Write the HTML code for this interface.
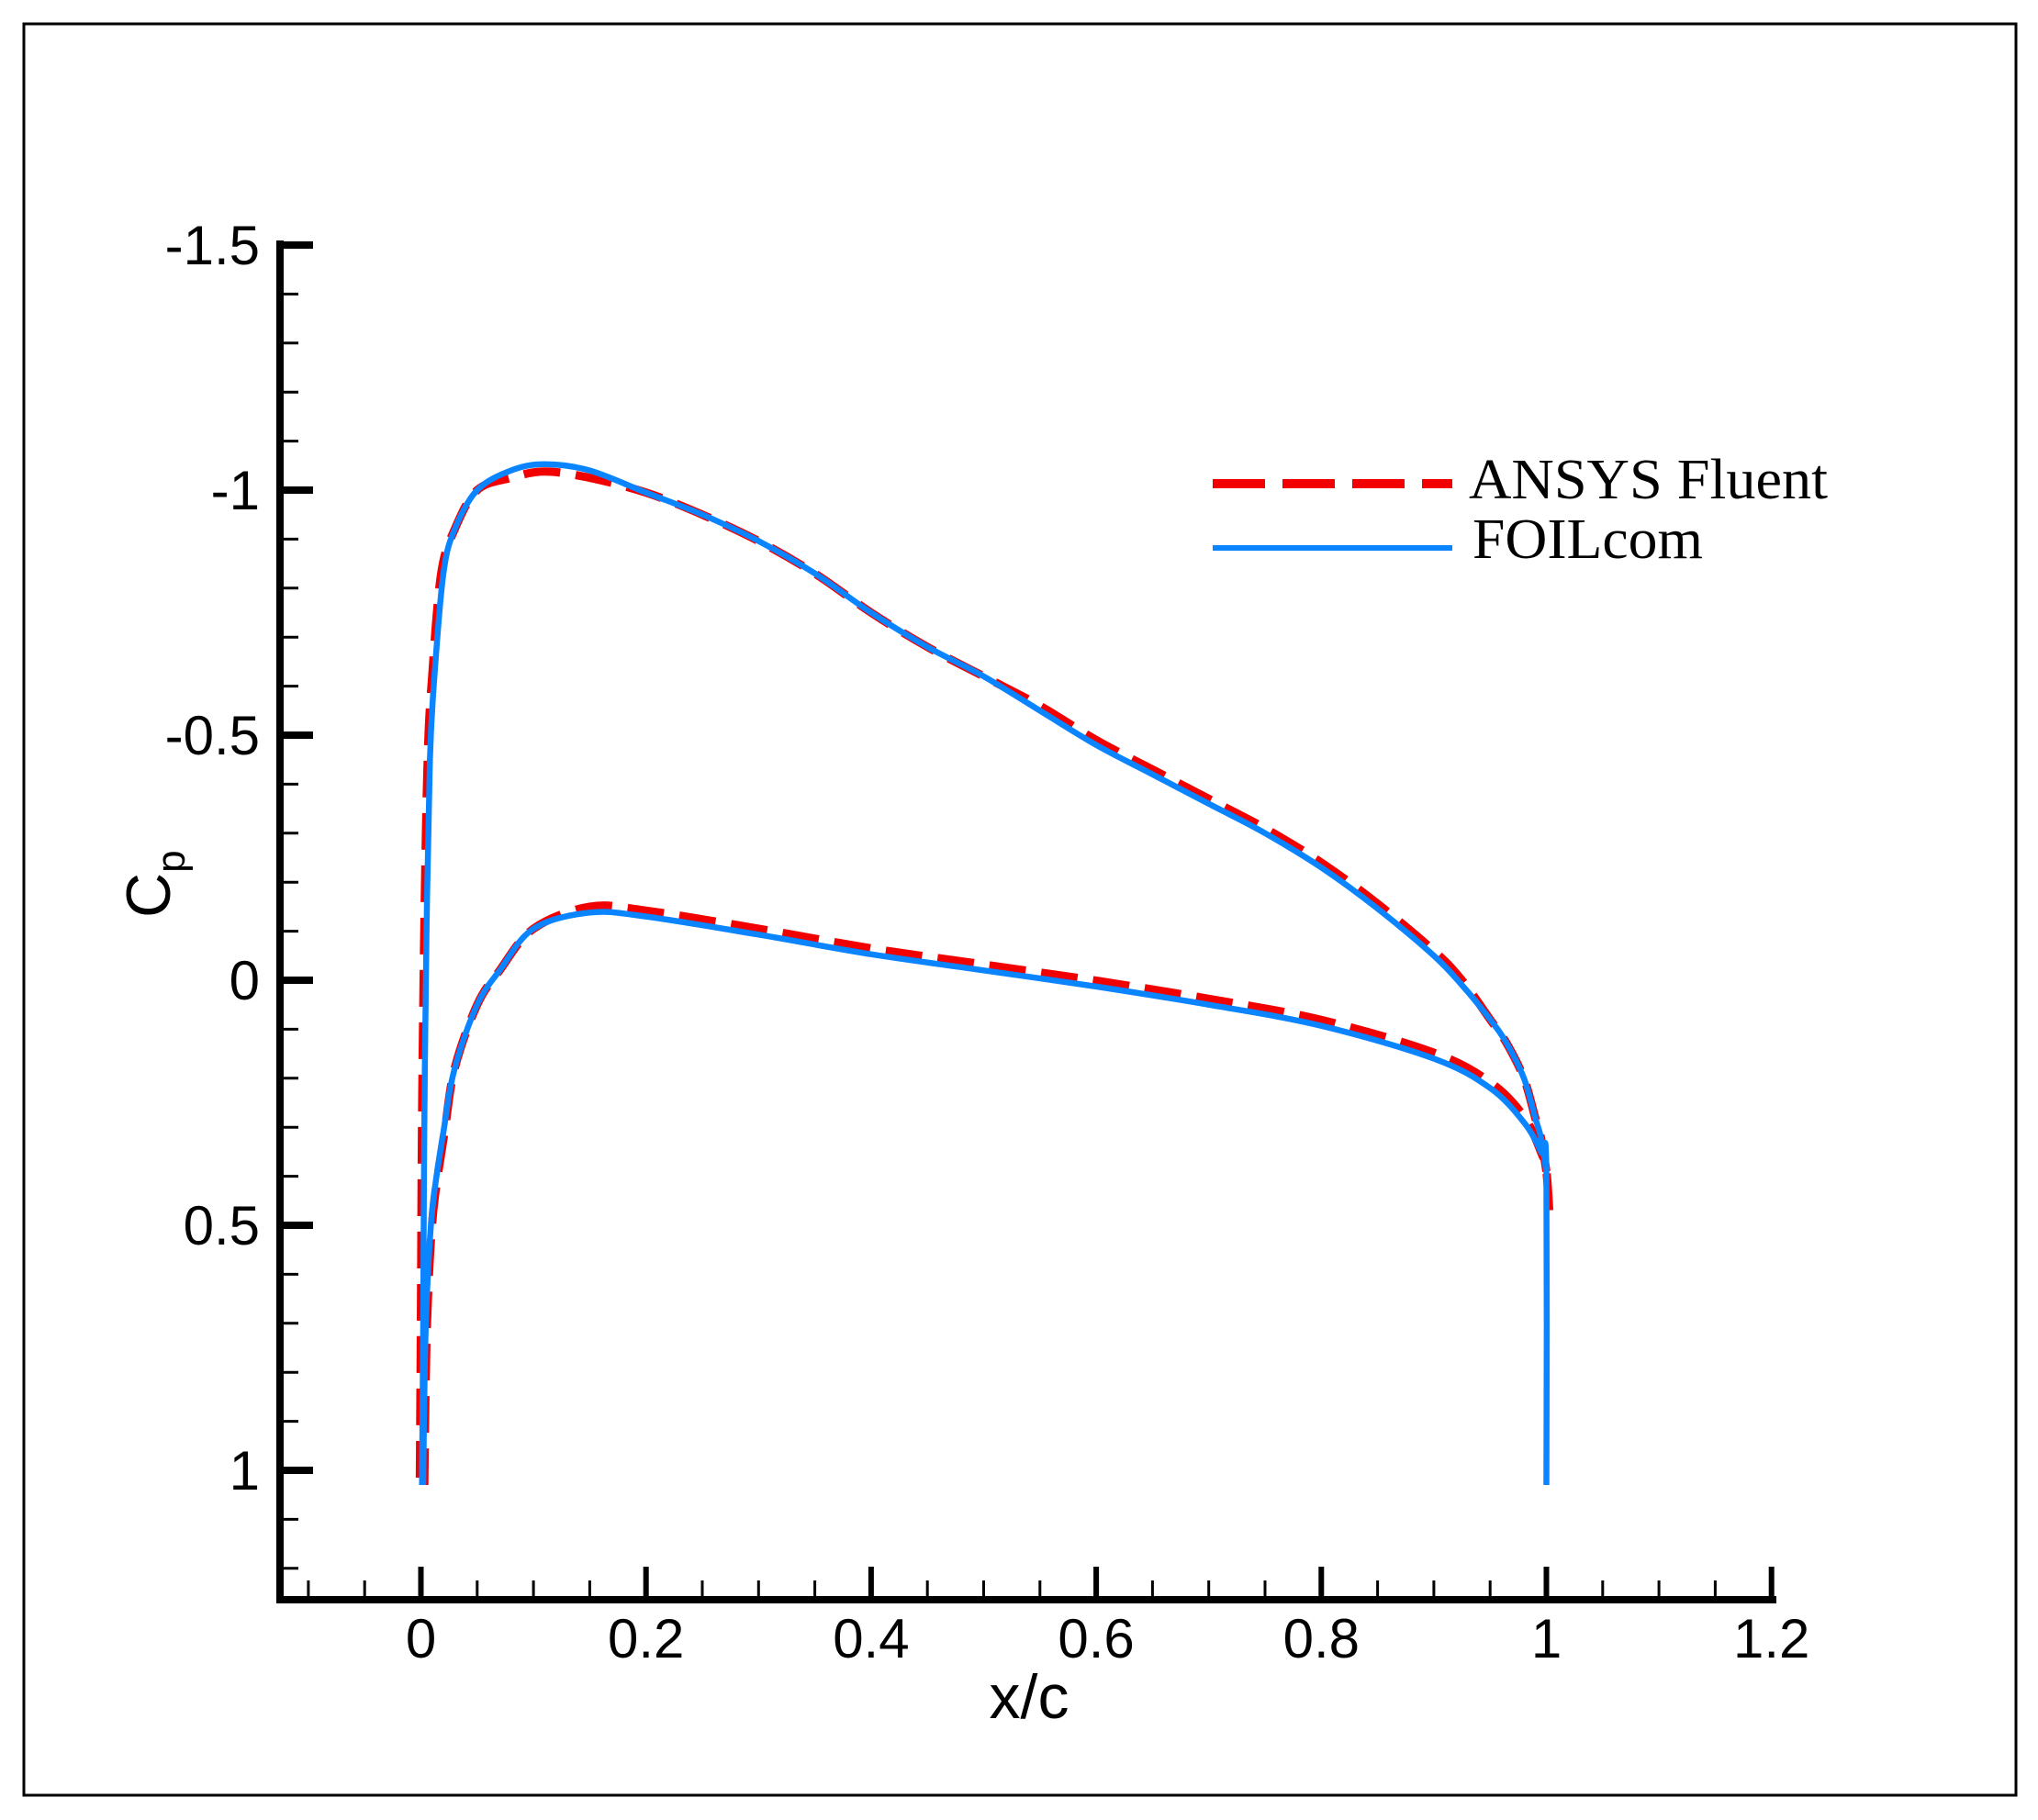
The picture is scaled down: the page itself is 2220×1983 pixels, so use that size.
<!DOCTYPE html>
<html><head><meta charset="utf-8"><style>
html,body{margin:0;padding:0;background:#fff;}
svg{display:block;}
</style></head><body>
<svg id="s" width="2220" height="1983" viewBox="0 0 2220 1983" xmlns="http://www.w3.org/2000/svg">
<rect x="0" y="0" width="2220" height="1983" fill="#fff"/>
<rect x="26" y="26" width="2170" height="1930" fill="none" stroke="#000" stroke-width="3"/>
<g id="axes" stroke="#000"></g>
<g font-family="Liberation Sans, Arial, sans-serif" font-size="60" fill="#000" id="labels"></g>
<path id="red" fill="none" stroke="#f20000" stroke-width="9" stroke-dasharray="40,17"/>
<path id="blue" fill="none" stroke="#0a84ff" stroke-width="6.5"/>
<line x1="1321" y1="527" x2="1582" y2="527" stroke="#f20000" stroke-width="10" stroke-dasharray="57,19"/>
<line x1="1321" y1="597" x2="1582" y2="597" stroke="#0a84ff" stroke-width="6"/>
<text x="1600" y="543" font-family="Liberation Serif, serif" font-size="62" textLength="391" lengthAdjust="spacingAndGlyphs">ANSYS Fluent</text>
<text x="1604" y="608" font-family="Liberation Serif, serif" font-size="62" textLength="251" lengthAdjust="spacingAndGlyphs">FOILcom</text>
<text x="1121" y="1872" font-family="Liberation Sans, sans-serif" font-size="68" text-anchor="middle">x/c</text>
<g transform="translate(185,1000) rotate(-90)"><text x="0" y="0" font-family="Liberation Sans, sans-serif" font-size="68">C<tspan font-size="44" dy="16">p</tspan></text></g>
</svg>
<script>
var X0=458.5,SX=1226,Y0=1068,SY=534;
function px(x){return X0+SX*x}function py(v){return Y0+SY*v}
var ax=document.getElementById('axes'),lb=document.getElementById('labels');
var h='';
h+='<line x1="305" y1="262" x2="305" y2="1747" stroke-width="8"/>';
h+='<line x1="301" y1="1743" x2="1935" y2="1743" stroke-width="8"/>';
for(var i=-15;i<=12;i++){var v=i/10,y=py(v);var maj=(i%5==0);
 h+='<line x1="305" y1="'+y+'" x2="'+(maj?341:325)+'" y2="'+y+'" stroke-width="'+(maj?8:3)+'"/>';}
for(var i=-2;i<=24;i++){var x=px(i*0.05);if(x<306)continue;var maj=(i%4==0);
 h+='<line x1="'+x+'" y1="1743" x2="'+x+'" y2="'+(maj?1707:1722)+'" stroke-width="'+(maj?6:3)+'"/>';}
ax.innerHTML=h;
var t='';
[[-1.5,'-1.5'],[-1,'-1'],[-0.5,'-0.5'],[0,'0'],[0.5,'0.5'],[1,'1']].forEach(function(a){
 t+='<text x="283" y="'+(py(a[0])+21)+'" text-anchor="end">'+a[1]+'</text>';});
[[0,'0'],[0.2,'0.2'],[0.4,'0.4'],[0.6,'0.6'],[0.8,'0.8'],[1,'1'],[1.2,'1.2']].forEach(function(a){
 t+='<text x="'+px(a[0])+'" y="1806" text-anchor="middle">'+a[1]+'</text>';});
lb.innerHTML=t;
var upper=[[1,0.39],[0.995,0.32],[0.99,0.28],[0.98,0.2],[0.965,0.13],[0.95,0.08],[0.925,0.01],[0.9,-0.05],[0.85,-0.146],[0.8,-0.23],[0.75,-0.3],[0.7,-0.36],[0.65,-0.42],[0.6,-0.48],[0.55,-0.55],[0.5,-0.62],[0.45,-0.68],[0.4,-0.75],[0.35,-0.83],[0.3,-0.896],[0.25,-0.95],[0.2,-0.995],[0.15,-1.04],[0.11,-1.053],[0.08,-1.04],[0.05,-1.0],[0.03,-0.92],[0.02,-0.83],[0.012,-0.62],[0.008,-0.45],[0.005,-0.1],[0.003,0.3],[0.002,0.7],[0.001,1.03]];
var lower=[[0.002,1.03],[0.003,0.85],[0.005,0.66],[0.01,0.47],[0.02,0.31],[0.03,0.18],[0.05,0.05],[0.07,-0.02],[0.1,-0.105],[0.15,-0.138],[0.2,-0.13],[0.3,-0.093],[0.4,-0.053],[0.5,-0.02],[0.6,0.013],[0.7,0.05],[0.8,0.093],[0.9,0.16],[0.95,0.22],[0.98,0.29],[0.995,0.35],[1,0.39],[1,1.03]];
function path(arr){var P=arr.map(function(p){return[px(p[0]),py(p[1])]});
 var d='M'+P[0][0].toFixed(1)+' '+P[0][1].toFixed(1);
 for(var i=0;i<P.length-1;i++){var p0=P[Math.max(0,i-1)],p1=P[i],p2=P[i+1],p3=P[Math.min(P.length-1,i+2)];
  var c1=[p1[0]+(p2[0]-p0[0])/6,p1[1]+(p2[1]-p0[1])/6],c2=[p2[0]-(p3[0]-p1[0])/6,p2[1]-(p3[1]-p1[1])/6];
  d+='C'+c1[0].toFixed(1)+' '+c1[1].toFixed(1)+' '+c2[0].toFixed(1)+' '+c2[1].toFixed(1)+' '+p2[0].toFixed(1)+' '+p2[1].toFixed(1);}
 return d;}
document.getElementById('blue').setAttribute('d',path(upper)+path(lower));
var ru=upper.map(function(p){var v=p[1];if(p[0]>0.05&&p[0]<0.2)v+=0.015;if(p[0]>0.5&&p[0]<0.95)v-=0.01;return[p[0]+(p[0]<0.03?-0.002:0),v]});
var rl=lower.slice(0,lower.length-1).map(function(p){var v=p[1];if(p[0]>0.1&&p[0]<0.99)v-=0.012;return[p[0]+(p[0]<0.03?0.001:0),v]});
rl.push([1.003,0.49]);
document.getElementById('red').setAttribute('d',path(ru)+path(rl));
</script>
</body></html>
